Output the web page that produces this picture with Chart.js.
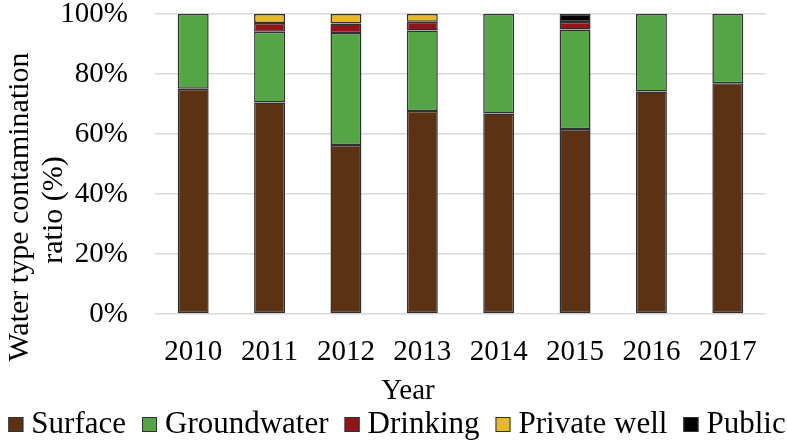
<!DOCTYPE html>
<html>
<head>
<meta charset="utf-8">
<script src="https://cdn.jsdelivr.net/npm/chart.js@4/dist/chart.umd.min.js"></script>
<style>
    html, body { margin: 0; padding: 0; background: #fff; }
    #wrap { width: 787px; height: 444px; position: relative; }
</style>
</head>
<body>
<div id="wrap"><canvas id="chart"></canvas></div>
<script>
// Données (% par année)
const years = ['2010', '2011', '2012', '2013', '2014', '2015', '2016', '2017'];
const surface = [75.1, 70.5, 56.3, 67.7, 66.8, 61.7, 74.2, 76.9];
const groundwater = [24.9, 23.6, 37.4, 26.8, 33.2, 33.1, 25.8, 23.1];
const drinking = [null, 2.9, 3.1, 2.9, null, 2.5, null, null];
const privateWell = [null, 3.0, 3.2, 2.6, null, null, null, null];
const publicWater = [null, null, null, null, null, 2.7, null, null];
const yTicks = [0, 20, 40, 60, 80, 100];

const FONT = '"Liberation Serif", "Times New Roman", serif';

function makeSet(label, data, color) {
    return {
        label: label,
        data: data,
        backgroundColor: color,
        borderColor: '#303030',
        borderWidth: 1.5,
        borderSkipped: false,
        barPercentage: 0.405,
        categoryPercentage: 1
    };
}

// Titres des axes et légende dessinés à la main
const decorations = {
    id: 'decorations',
    afterDraw(chart) {
        const ctx = chart.ctx;
        ctx.save();
        ctx.fillStyle = '#000';

        // Titre de l'axe Y (deux lignes, vertical)
        ctx.font = '30px ' + FONT;
        ctx.textAlign = 'center';
        ctx.textBaseline = 'alphabetic';
        ctx.save();
        ctx.translate(28, 207);
        ctx.rotate(-Math.PI / 2);
        ctx.fillText('Water type contamination', 0, 0);
        ctx.restore();
        ctx.save();
        ctx.translate(62, 210);
        ctx.rotate(-Math.PI / 2);
        ctx.fillText('ratio (%)', 0, 0);
        ctx.restore();

        // Titre de l'axe X
        ctx.font = '29px ' + FONT;
        ctx.fillText('Year', 408, 399);

        // Légende
        ctx.font = '31px ' + FONT;
        ctx.textAlign = 'left';
        const box = 15, gapText = 8, gapItem = 16;
        const items = chart.data.datasets.map(ds => ({
            text: ds.label,
            color: ds.backgroundColor,
            w: ctx.measureText(ds.label).width
        }));
        const total = items.reduce((s, it) => s + box + gapText + it.w, 0) + gapItem * (items.length - 1);
        let x = 397 - total / 2;
        items.forEach(it => {
            ctx.fillStyle = it.color;
            ctx.fillRect(x, 417, box, box);
            ctx.strokeStyle = '#303030';
            ctx.lineWidth = 1;
            ctx.strokeRect(x + 0.5, 417.5, box - 1, box - 1);
            ctx.fillStyle = '#000';
            ctx.fillText(it.text, x + box + gapText, 433);
            x += box + gapText + it.w + gapItem;
        });
        ctx.restore();
    }
};

new Chart(document.getElementById('chart'), {
    type: 'bar',
    data: {
        labels: years,
        datasets: [
            makeSet('Surface', surface, '#5b3214'),
            makeSet('Groundwater', groundwater, '#55a546'),
            makeSet('Drinking', drinking, '#8e1519'),
            makeSet('Private well', privateWell, '#e6b92c'),
            makeSet('Public', publicWater, '#000000')
        ]
    },
    options: {
        responsive: true,
        maintainAspectRatio: false,
        animation: false,
        layout: { padding: { left: 60, right: 21, top: 14, bottom: 0 } },
        plugins: {
            legend: { display: false },
            tooltip: { enabled: false }
        },
        scales: {
            x: {
                stacked: true,
                grid: { display: false, drawTicks: false },
                border: { display: false },
                ticks: {
                    color: '#000',
                    padding: 21,
                    font: { family: FONT, size: 29 }
                },
                afterFit(scale) { scale.height = 130; }
            },
            y: {
                stacked: true,
                min: 0,
                max: 100,
                afterBuildTicks(scale) { scale.ticks = yTicks.map(v => ({ value: v })); },
                grid: { color: '#d9d9d9', lineWidth: 1.5, drawTicks: false },
                border: { display: false },
                ticks: {
                    color: '#000',
                    padding: 27,
                    font: { family: FONT, size: 29 },
                    callback: v => v + '%'
                },
                afterFit(scale) {
                    scale.width = 95;
                    scale.paddingTop = 0;
                    scale.paddingBottom = 0;
                }
            }
        }
    },
    plugins: [decorations]
});
</script>
</body>
</html>
